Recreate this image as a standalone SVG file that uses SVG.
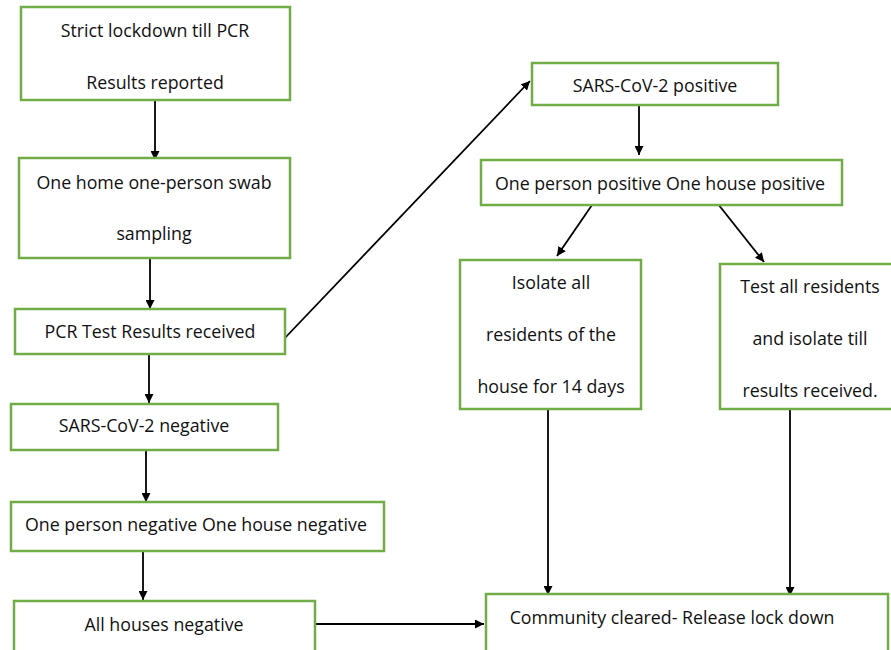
<svg xmlns="http://www.w3.org/2000/svg" width="891" height="650" viewBox="0 0 891 650">
<style>
.box{fill:#fff;stroke:#70AD47;stroke-width:2.5}
.t{font-family:"Open Sans","Liberation Sans",sans-serif;font-size:17.8px;fill:#111;text-anchor:middle}
.c{stroke:#000;stroke-width:1.8;fill:none;marker-end:url(#ah)}
</style>
<defs>
<marker id="ah" viewBox="0 0 10 10" refX="10" refY="5" markerWidth="9" markerHeight="9" orient="auto" markerUnits="userSpaceOnUse">
<path d="M0,0 L10,5 L0,10 z" fill="#000"/>
</marker>
</defs>
<rect width="891" height="650" fill="#fff"/>
<g id="connectors">
<line class="c" x1="155" y1="100" x2="155" y2="160"/>
<line class="c" x1="150" y1="258" x2="150" y2="309"/>
<line class="c" x1="149" y1="354" x2="149" y2="403"/>
<line class="c" x1="146" y1="450" x2="146" y2="502"/>
<line class="c" x1="143" y1="551" x2="143" y2="600"/>
<line class="c" x1="315" y1="624" x2="484" y2="624"/>
<line class="c" x1="283" y1="340" x2="530" y2="81"/>
<line class="c" x1="639" y1="106" x2="639" y2="155"/>
<line class="c" x1="592" y1="205" x2="557" y2="256"/>
<line class="c" x1="718" y1="204" x2="764" y2="262"/>
<line class="c" x1="548" y1="409" x2="548" y2="595"/>
<line class="c" x1="790" y1="409" x2="790" y2="596"/>
</g>
<g id="n1"><rect class="box" x="21" y="7" width="269" height="93"/>
<text class="t" x="155" y="37">Strict lockdown till PCR</text>
<text class="t" x="155" y="89">Results reported</text></g>
<g id="n2"><rect class="box" x="19" y="158" width="271" height="100"/>
<text class="t" x="154" y="189">One home one-person swab</text>
<text class="t" x="154" y="240">sampling</text></g>
<g id="n3"><rect class="box" x="15" y="309" width="270" height="45"/>
<text class="t" x="150" y="338">PCR Test Results received</text></g>
<g id="n4"><rect class="box" x="11" y="404" width="267" height="46"/>
<text class="t" x="144" y="432">SARS-CoV-2 negative</text></g>
<g id="n5"><rect class="box" x="11" y="502" width="373" height="49"/>
<text class="t" x="196" y="531">One person negative One house negative</text></g>
<g id="n6"><rect class="box" x="14" y="601" width="301" height="52"/>
<text class="t" x="164" y="631">All houses negative</text></g>
<g id="n7"><rect class="box" x="532" y="63" width="246" height="42"/>
<text class="t" x="655" y="92">SARS-CoV-2 positive</text></g>
<g id="n8"><rect class="box" x="481" y="160" width="361" height="45"/>
<text class="t" x="660" y="190">One person positive One house positive</text></g>
<g id="n9"><rect class="box" x="460" y="260" width="181" height="149"/>
<text class="t" x="551" y="289">Isolate all</text>
<text class="t" x="551" y="341">residents of the</text>
<text class="t" x="551" y="393">house for 14 days</text></g>
<g id="n10"><rect class="box" x="720" y="264" width="175" height="145"/>
<text class="t" x="810" y="293">Test all residents</text>
<text class="t" x="810" y="345">and isolate till</text>
<text class="t" x="810" y="397">results received.</text></g>
<g id="n11"><rect class="box" x="486" y="594" width="402" height="60"/>
<text class="t" x="672" y="624">Community cleared- Release lock down</text></g>
</svg>
